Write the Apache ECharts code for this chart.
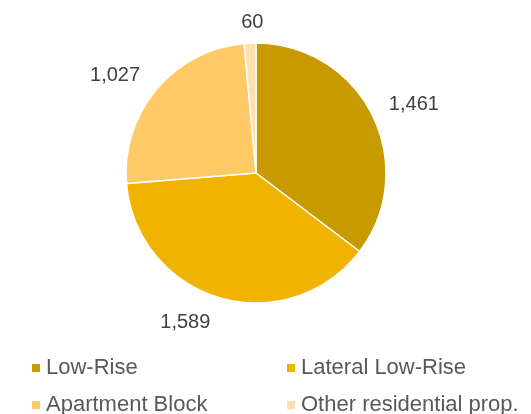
<!DOCTYPE html>
<html><head><meta charset="utf-8">
<script src="https://cdn.jsdelivr.net/npm/echarts@6/dist/echarts.min.js"></script>
<style>html,body{margin:0;padding:0;background:#fff}#c{width:531px;height:414px}</style>
</head><body><div id="c"></div>
<script>
var categories = ['Low-Rise', 'Lateral Low-Rise', 'Apartment Block', 'Other residential prop.'];
var values = [1461, 1589, 1027, 60];
var colors = ['#C79A00', '#F0B300', '#FFC966', '#FFDFB0'];

var chart = echarts.init(document.getElementById('c'), null, {renderer: 'canvas'});
var labelTweaks = [
  {offset: [-2, -4]},
  {offset: [0, 10]},
  {offset: [0, -4]},
  {align: 'center', offset: [19, -6]}
];
var data = categories.map(function (c, i) {
  return {name: c, value: values[i], itemStyle: {color: colors[i]}, label: labelTweaks[i]};
});
chart.setOption({
  animation: false,
  textStyle: {fontFamily: 'Liberation Sans, Arial, sans-serif'},
  legend: {
    data: categories,
    left: 30, top: 354, width: 520, padding: 0,
    orient: 'horizontal',
    icon: 'rect', itemWidth: 10, itemHeight: 10, itemGap: 9,
    textStyle: {fontSize: 22, color: '#595959', width: 230, height: 28, lineHeight: 28, fontFamily: 'Liberation Sans, Arial, sans-serif'}
  },
  series: [{
    type: 'pie',
    center: [256, 173],
    radius: [0, 130],
    startAngle: 90,
    clockwise: true,
    avoidLabelOverlap: false,
    itemStyle: {borderColor: '#fff', borderWidth: 1.5},
    label: {
      show: true, position: 'outside', fontSize: 20, color: '#404040',
      fontFamily: 'Liberation Sans, Arial, sans-serif',
      formatter: function (p) { return p.value.toLocaleString('en-US'); }
    },
    labelLine: {show: false, length: 15, length2: 0},
    data: data
  }]
});
</script></body></html>
